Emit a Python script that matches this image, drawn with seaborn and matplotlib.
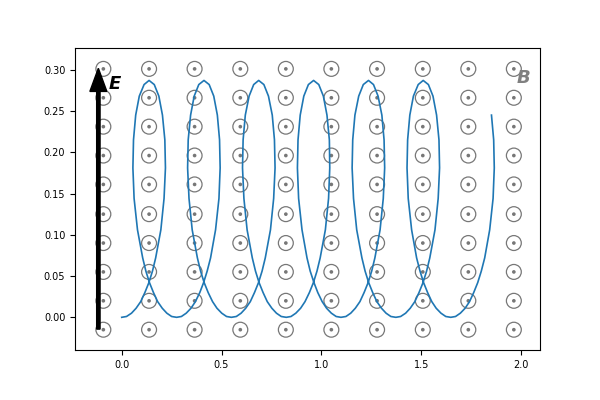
import matplotlib
matplotlib.use("Agg")
import matplotlib.pyplot as plt
import seaborn as sns
import numpy as np

# trajectory points
traj_x = [
    0.000, 0.024, 0.049, 0.072, 0.095, 0.116, 0.136, 0.154, 0.170,
    0.196, 0.212, 0.219, 0.216, 0.204, 0.186, 0.163, 0.137, 0.112, 0.088, 0.070, 0.059, 0.056, 0.062, 0.079,
    0.105, 0.121, 0.139, 0.159, 0.180, 0.203, 0.226, 0.250,
    0.275, 0.299, 0.323, 0.347, 0.369, 0.391, 0.410, 0.428, 0.445,
    0.470, 0.487, 0.493, 0.490, 0.479, 0.461, 0.438, 0.412, 0.386, 0.363, 0.345, 0.333, 0.330, 0.337, 0.353,
    0.379, 0.395, 0.413, 0.433, 0.455, 0.477, 0.501, 0.525,
    0.549, 0.574, 0.598, 0.621, 0.644, 0.665, 0.685, 0.703, 0.719,
    0.745, 0.761, 0.768, 0.765, 0.754, 0.735, 0.712, 0.686, 0.661, 0.638, 0.619, 0.608, 0.605, 0.612, 0.628,
    0.654, 0.670, 0.688, 0.708, 0.729, 0.752, 0.775, 0.799,
    0.824, 0.848, 0.872, 0.896, 0.918, 0.940, 0.960, 0.978, 0.994,
    1.020, 1.036, 1.042, 1.040, 1.028, 1.010, 0.987, 0.961, 0.935, 0.912, 0.894, 0.883, 0.880, 0.886, 0.903,
    0.928, 0.944, 0.963, 0.982, 1.004, 1.026, 1.050, 1.074,
    1.098, 1.123, 1.147, 1.170, 1.193, 1.214, 1.234, 1.252, 1.268,
    1.294, 1.310, 1.317, 1.314, 1.303, 1.284, 1.261, 1.236, 1.210, 1.187, 1.168, 1.157, 1.154, 1.161, 1.177,
    1.203, 1.219, 1.237, 1.257, 1.278, 1.301, 1.324, 1.348,
    1.373, 1.397, 1.422, 1.445, 1.468, 1.489, 1.509, 1.527, 1.543,
    1.569, 1.585, 1.592, 1.589, 1.577, 1.559, 1.536, 1.510, 1.485, 1.461, 1.443, 1.432, 1.429, 1.435, 1.452,
    1.477, 1.494, 1.512, 1.532, 1.553, 1.575, 1.599, 1.623,
    1.648, 1.672, 1.696, 1.720, 1.742, 1.763, 1.783, 1.801, 1.818,
    1.843, 1.860, 1.866, 1.863, 1.852,
]
traj_y = [
    0.000, 0.001, 0.005, 0.011, 0.019, 0.030, 0.042, 0.056, 0.072,
    0.106, 0.144, 0.181, 0.215, 0.245, 0.268, 0.282, 0.287, 0.282, 0.268, 0.245, 0.215, 0.181, 0.144, 0.106,
    0.072, 0.056, 0.042, 0.030, 0.019, 0.011, 0.005, 0.001,
    0.000, 0.001, 0.005, 0.011, 0.019, 0.030, 0.042, 0.056, 0.072,
    0.106, 0.144, 0.181, 0.215, 0.245, 0.268, 0.282, 0.287, 0.282, 0.268, 0.245, 0.215, 0.181, 0.144, 0.106,
    0.072, 0.056, 0.042, 0.030, 0.019, 0.011, 0.005, 0.001,
    0.000, 0.001, 0.005, 0.011, 0.019, 0.030, 0.042, 0.056, 0.072,
    0.106, 0.144, 0.181, 0.215, 0.245, 0.268, 0.282, 0.287, 0.282, 0.268, 0.245, 0.215, 0.181, 0.144, 0.106,
    0.072, 0.056, 0.042, 0.030, 0.019, 0.011, 0.005, 0.001,
    0.000, 0.001, 0.005, 0.011, 0.019, 0.030, 0.042, 0.056, 0.072,
    0.106, 0.144, 0.181, 0.215, 0.245, 0.268, 0.282, 0.287, 0.282, 0.268, 0.245, 0.215, 0.181, 0.144, 0.106,
    0.072, 0.056, 0.042, 0.030, 0.019, 0.011, 0.005, 0.001,
    0.000, 0.001, 0.005, 0.011, 0.019, 0.030, 0.042, 0.056, 0.072,
    0.106, 0.144, 0.181, 0.215, 0.245, 0.268, 0.282, 0.287, 0.282, 0.268, 0.245, 0.215, 0.181, 0.144, 0.106,
    0.072, 0.056, 0.042, 0.030, 0.019, 0.011, 0.005, 0.001,
    0.000, 0.001, 0.005, 0.011, 0.019, 0.030, 0.042, 0.056, 0.072,
    0.106, 0.144, 0.181, 0.215, 0.245, 0.268, 0.282, 0.287, 0.282, 0.268, 0.245, 0.215, 0.181, 0.144, 0.106,
    0.072, 0.056, 0.042, 0.030, 0.019, 0.011, 0.005, 0.001,
    0.000, 0.001, 0.005, 0.011, 0.019, 0.030, 0.042, 0.056, 0.072,
    0.106, 0.144, 0.181, 0.215, 0.245,
]

# B-field symbol grid (columns / rows)
grid_cols = [-0.092, 0.137, 0.365, 0.594, 0.822, 1.050, 1.279, 1.508, 1.736, 1.964]
grid_rows = [-0.015, 0.020, 0.055, 0.090, 0.125, 0.161, 0.196, 0.231, 0.266, 0.301]

x_ticks = [0.0, 0.5, 1.0, 1.5, 2.0]
y_ticks = [0.00, 0.05, 0.10, 0.15, 0.20, 0.25, 0.30]

fig = plt.figure(figsize=(6, 4), dpi=100)
ax = fig.add_axes([0.125, 0.125, 0.775, 0.755])

GX, GY = np.meshgrid(grid_cols, grid_rows)
gx = GX.ravel()
gy = GY.ravel()

sns.scatterplot(x=gx, y=gy, ax=ax, marker="o", s=115, facecolor="none",
                edgecolor="#777777", linewidth=0.9, zorder=2, legend=False)
sns.scatterplot(x=gx, y=gy, ax=ax, marker="o", s=7, color="#777777",
                edgecolor="none", linewidth=0, zorder=2, legend=False)

sns.lineplot(x=traj_x, y=traj_y, ax=ax, sort=False, estimator=None,
             color="#1f77b4", linewidth=1.2, zorder=3)

ax.arrow(-0.117, -0.0143, 0, 0.316, width=0.017, head_width=0.085,
         head_length=0.028, length_includes_head=True, color="black", zorder=4)

ax.text(-0.066, 0.283, "E", fontsize=13, fontweight="bold", fontstyle="italic",
        ha="left", va="center", color="black")
ax.text(1.978, 0.2905, "B", fontsize=13, fontweight="bold", fontstyle="italic",
        ha="left", va="center", color="#808080")

ax.set_xlim(-0.234, 2.095)
ax.set_ylim(-0.0396, 0.3263)
ax.set_xticks(x_ticks)
ax.set_xticklabels([f"{v:.1f}" for v in x_ticks])
ax.set_yticks(y_ticks)
ax.set_yticklabels([f"{v:.2f}" for v in y_ticks])
ax.tick_params(labelsize=7, length=3.5, width=0.8, color="black")
for sp in ax.spines.values():
    sp.set_color("black")
    sp.set_linewidth(0.8)
ax.set_xlabel("")
ax.set_ylabel("")

fig.savefig("out.png", dpi=100)
